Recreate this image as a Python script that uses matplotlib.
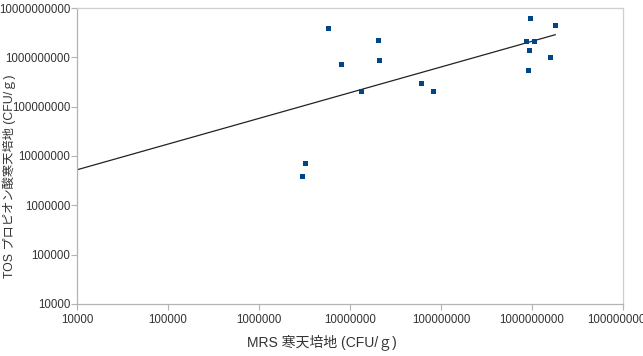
import numpy as np
import matplotlib
matplotlib.use("Agg")
import matplotlib.pyplot as plt
from matplotlib.ticker import FixedLocator, FuncFormatter

# Data (CFU/g)
mrs = [2.94e6, 3.2e6, 5.8e6, 7.9e6, 1.31e7, 2.03e7, 2.1e7, 6.1e7, 8.1e7,
       9.5e8, 1.8e9, 8.6e8, 1.06e9, 9.3e8, 1.56e9, 9.1e8]
tos = [4.0e6, 7.3e6, 4.0e9, 7.3e8, 2.06e8, 2.2e9, 9.0e8, 3.0e8, 2.06e8,
       6.3e9, 4.47e9, 2.15e9, 2.15e9, 1.43e9, 1.0e9, 5.5e8]

# Power trend line y = a * x^b
trend_a = 4.33e4
trend_b = 0.521
trend_x_start = 1e4

x_ticks = [1e4, 1e5, 1e6, 1e7, 1e8, 1e9, 1e10]
y_ticks = [1e4, 1e5, 1e6, 1e7, 1e8, 1e9, 1e10]

fam = ['Liberation Sans', 'Noto Sans CJK JP', 'DejaVu Sans']
plt.rcParams['font.family'] = fam

fig = plt.figure(figsize=(6.43, 3.56), dpi=100)
ax = fig.add_axes([77/643, 1 - 304/356, (623-77)/643, (304-8)/356])
ax.set_xscale('log')
ax.set_yscale('log')
ax.set_xlim(1e4, 1e10)
ax.set_ylim(1e4, 1e10)

tx = np.logspace(np.log10(trend_x_start), np.log10(max(mrs)), 50)
ax.plot(tx, trend_a * tx ** trend_b, color='#222222', lw=0.9, zorder=2)
ax.plot(mrs, tos, linestyle='none', marker='s', markersize=3.6,
        color='#004586', markeredgewidth=0, zorder=3)

fmt = FuncFormatter(lambda v, p: f"{int(round(v))}")
ax.xaxis.set_major_locator(FixedLocator(x_ticks))
ax.yaxis.set_major_locator(FixedLocator(y_ticks))
ax.xaxis.set_major_formatter(fmt)
ax.yaxis.set_major_formatter(fmt)
ax.xaxis.set_minor_locator(FixedLocator([]))
ax.yaxis.set_minor_locator(FixedLocator([]))

ax.tick_params(axis='both', which='major', direction='out', length=4,
               width=0.8, color='#b3b3b3', labelsize=8.3, labelcolor='#333333')
ax.tick_params(axis='x', pad=3)
ax.tick_params(axis='y', pad=1)

for s in ['left', 'bottom']:
    ax.spines[s].set_color('#b3b3b3')
    ax.spines[s].set_linewidth(0.9)
for s in ['top', 'right']:
    ax.spines[s].set_color('#cfcfcf')
    ax.spines[s].set_linewidth(0.9)

fig.text(322/643, 1 - 342/356, 'MRS 寒天培地 (CFU/ｇ)', fontsize=10,
         color='#333333', ha='center', va='center')
fig.text(9/643, 1 - 176/356, 'TOS プロピオン酸寒天培地 (CFU/ｇ)', fontsize=8.8,
         color='#333333', ha='center', va='center', rotation=90)

fig.savefig('out.png', dpi=100)
